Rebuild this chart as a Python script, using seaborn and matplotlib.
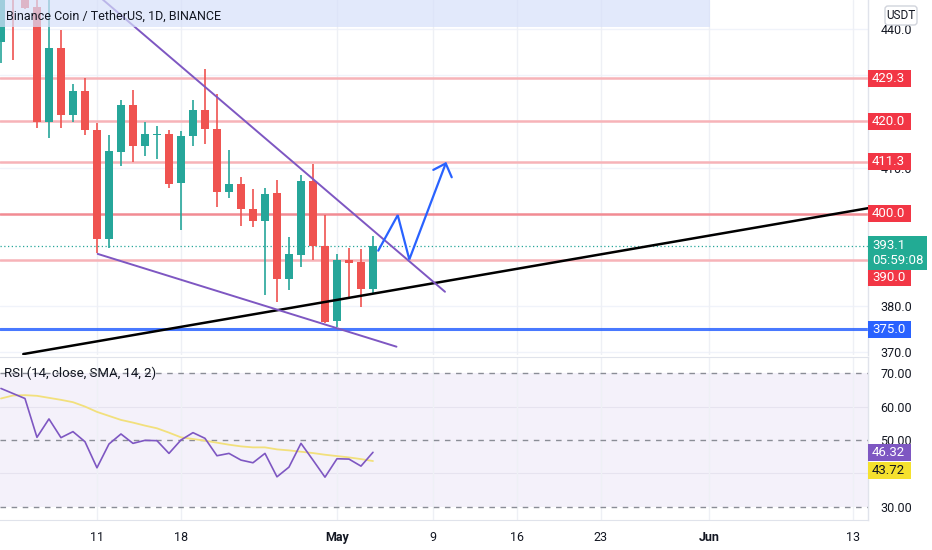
import numpy as np
import pandas as pd
import matplotlib
matplotlib.use("Agg")
import matplotlib.pyplot as plt
import matplotlib.dates as mdates
import matplotlib.transforms as mtrans
from matplotlib.patches import Rectangle, FancyBboxPatch
import seaborn as sns

# ---------------- data ----------------
dates = pd.date_range("2022-04-03", "2022-05-04", freq="D")
open_ = [437.3, 455.0, 452.0, 444.8, 419.9, 436.0, 421.4, 426.6, 418.1, 394.5, 413.4, 423.5,
         414.7, 417.0, 417.2, 406.6, 416.9, 422.5, 418.3, 404.8, 406.4, 401.0, 398.5, 404.5,
         385.8, 391.1, 407.1, 393.0, 376.8, 390.0, 389.5, 383.7]
high = [449.0, 458.0, 454.0, 447.5, 447.0, 439.8, 428.1, 429.5, 419.7, 417.0, 424.6, 426.9,
        419.9, 419.0, 418.1, 417.9, 424.6, 431.3, 425.9, 413.8, 408.0, 405.3, 405.5, 407.3,
        394.9, 408.4, 410.8, 399.7, 391.3, 392.5, 392.3, 395.2]
low = [432.6, 433.3, 444.3, 418.5, 416.3, 418.5, 419.8, 417.0, 391.4, 392.5, 410.4, 411.3,
       412.6, 411.8, 405.5, 396.5, 414.7, 415.1, 401.4, 403.5, 397.4, 397.2, 382.4, 380.9,
       383.5, 388.5, 390.0, 376.4, 375.5, 382.0, 379.9, 382.7]
close = [447.5, 448.5, 444.5, 419.9, 436.0, 421.4, 426.6, 418.1, 394.5, 413.6, 423.5, 414.7,
         417.2, 417.3, 406.4, 416.8, 422.5, 418.3, 404.8, 406.4, 401.0, 398.5, 404.3, 385.8,
         391.3, 407.1, 393.0, 376.6, 390.0, 389.3, 383.7, 393.1]
rsi = [65.4, 63.9, 62.4, 50.8, 56.3, 50.7, 52.5, 49.5, 41.7, 48.8, 51.8, 49.0, 49.9, 49.8,
       46.0, 50.0, 52.2, 50.5, 45.3, 46.0, 44.0, 43.2, 46.0, 39.0, 41.9, 49.0, 44.0, 38.9,
       44.4, 44.3, 42.2, 46.32]
rsi_sma = [62.4, 63.3, 63.4, 63.2, 62.6, 62.0, 61.3, 60.0, 58.4, 57.2, 56.0, 55.2, 54.3, 53.5,
           52.2, 50.8, 50.3, 49.8, 49.2, 48.6, 48.1, 47.8, 47.8, 47.2, 46.9, 46.5, 46.1, 45.6,
           45.2, 44.8, 44.3, 43.72]
red_levels = [429.3, 420.0, 411.3, 400.0, 390.0]
blue_level = 375.0
last_price = 393.1
countdown = "05:59:08"
tick_dates = ["2022-04-11", "2022-04-18", "2022-05-01", "2022-05-09",
              "2022-05-16", "2022-05-23", "2022-06-01", "2022-06-13"]
tick_labels = ["11", "18", "May", "9", "16", "23", "Jun", "13"]
price_ticks = [370, 380, 410, 440]          # others sit under the level tags
price_grid = [370, 380, 390, 400, 410, 420, 430, 440]
rsi_ticks = [30, 50, 60, 70]
rsi_grid = [40, 60]
title = "Binance Coin / TetherUS, 1D, BINANCE"
rsi_title = "RSI (14, close, SMA, 14, 2)"

# drawings (date, price) anchors
black_line = [("2022-04-04 20:38", 369.6), ("2022-06-14 06:00", 401.2)]
upper_wedge = [("2022-04-09", 451.9), ("2022-05-10", 383.1)]
lower_wedge = [("2022-04-11 01:30", 391.3), ("2022-05-05 23:00", 371.2)]
arrow_path = [("2022-05-04 10:30", 392.0), ("2022-05-06 01:30", 399.7),
              ("2022-05-07 00:40", 390.1), ("2022-05-10 01:30", 410.9)]
arrow_wings = [("2022-05-09 00:40", 409.5), ("2022-05-10 13:30", 407.9)]

# ---------------- style ----------------
sns.set_style("white")
plt.rcParams["font.family"] = ["Roboto", "DejaVu Sans"]
TXT = "#131722"
GREEN = "#26a69a"
RED = "#ef5350"

fig = plt.figure(figsize=(9.32, 5.5), dpi=100)
W, H = 932, 550
ax = fig.add_axes([0, 1 - 355 / H, 868 / W, 355 / H])
ax2 = fig.add_axes([0, 1 - 520 / H, 868 / W, (520 - 357) / H])

x = mdates.date2num(dates)
x_ref = mdates.date2num(pd.Timestamp("2022-04-11"))
xlim = (x_ref - 8.08, x_ref + 64.25)

def tonum(pairs):
    return [mdates.date2num(pd.Timestamp(d)) for d, _ in pairs], [p for _, p in pairs]

for a in (ax, ax2):
    a.set_xlim(*xlim)
    a.set_facecolor("white")
    for s in ("left", "top", "bottom"):
        a.spines[s].set_visible(False)
    a.spines["right"].set_color("#e0e3eb")
    a.spines["right"].set_linewidth(1)
    a.set_xticks([mdates.date2num(pd.Timestamp(d)) for d in tick_dates])
    a.grid(True, axis="x", color="#eef0f5", lw=1)
    a.yaxis.tick_right()
    a.tick_params(axis="y", length=0, pad=9, labelsize=9, labelcolor=TXT)
    a.tick_params(axis="x", length=0)

# ---------------- main pane ----------------
ax.set_ylim(369.4, 446.3)
ax.set_yticks(price_ticks)
ax.set_yticklabels([f"{v:.1f}" for v in price_ticks])
for g in price_grid:
    ax.axhline(g, color="#f0f3fa", lw=1, zorder=0)
ax.set_xticklabels([])

for lv in red_levels:
    ax.axhline(lv, color="#f28b93" if lv == 400.0 else "#f7b3b8", lw=1.8, zorder=1)
ax.axhline(blue_level, color="#2962ff", lw=2.2, zorder=1, alpha=0.85)
ax.axhline(last_price, color=GREEN, lw=0.9, ls=(0, (1, 2)), zorder=1)

colors = [GREEN if c >= o else RED for o, c in zip(open_, close)]
body_lo = np.minimum(open_, close)
body_h = np.maximum(np.abs(np.array(close) - np.array(open_)), 0.25)
ax.vlines(x, low, high, colors=colors, lw=1.2, zorder=3)
ax.bar(x, body_h, bottom=body_lo, width=0.68, color=colors, lw=0, zorder=4)

bx, by = tonum(black_line)
ax.plot(bx, by, color="black", lw=1.8, zorder=5, solid_capstyle="round")
ux, uy = tonum(upper_wedge)
ax.plot(ux, uy, color="#7e57c2", lw=1.4, zorder=5)
lx, ly = tonum(lower_wedge)
ax.plot(lx, ly, color="#7e57c2", lw=1.4, zorder=5)
px, py = tonum(arrow_path)
ax.plot(px, py, color="#2962ff", lw=1.6, zorder=6, solid_joinstyle="miter")
wx, wy = tonum(arrow_wings)
ax.plot([wx[0], px[-1], wx[1]], [wy[0], py[-1], wy[1]], color="#2962ff", lw=1.6, zorder=6)

# ---------------- RSI pane ----------------
ax2.set_ylim(26.1, 74.8)
ax2.set_yticks(rsi_ticks)
ax2.set_yticklabels([f"{v:.2f}" for v in rsi_ticks])
for g in rsi_grid:
    ax2.axhline(g, color="#e6e3ef", lw=0.8, zorder=0.5)
ax2.axhspan(30, 70, color="#7e57c2", alpha=0.08, lw=0, zorder=0)
for lv in (70, 50, 30):
    ax2.axhline(lv, color="#8a8d96", lw=1, ls=(0, (4, 4)), zorder=1)
sns.lineplot(x=x, y=rsi_sma, ax=ax2, color="#f2e07c", lw=1.3, zorder=3)
sns.lineplot(x=x, y=rsi, ax=ax2, color="#7e57c2", lw=1.2, zorder=4)
ax2.set_xlabel("")
ax2.set_ylabel("")
ax2.set_xticklabels(tick_labels)
ax2.tick_params(axis="x", pad=8, labelsize=9, labelcolor=TXT)
for lab in ax2.get_xticklabels():
    if lab.get_text() in ("May", "Jun"):
        lab.set_fontweight("bold")
ax2.spines["bottom"].set_visible(True)
ax2.spines["bottom"].set_color("#e0e3eb")
ax2.spines["top"].set_visible(True)
ax2.spines["top"].set_color("#e0e3eb")

# ---------------- overlays in pixel space ----------------
fig.canvas.draw()
ident = mtrans.IdentityTransform()

def ydisp(a, v):
    return a.transData.transform((xlim[0], v))[1]

def tag(a, v, text, fc, tc, w=43, h=17, shift=0.0):
    yc = ydisp(a, v) - shift
    fig.patches.append(Rectangle((868, yc - h / 2), w, h, transform=ident, fc=fc, ec="none",
                                 zorder=10, figure=fig))
    fig.text((868 + 4) / W, yc / H, text, transform=fig.transFigure, ha="left", va="center",
             color=tc, fontsize=9.5, zorder=11, linespacing=1.2)

for lv in red_levels:
    tag(ax, lv, f"{lv:.1f}", "#f23645", "white", shift=18 if lv == 390.0 else 0)
tag(ax, blue_level, f"{blue_level:.1f}", "#2962ff", "white")
tag(ax, last_price, f"{last_price:.1f}\n{countdown}", "#22ab94", "white", w=59, h=34, shift=7.5)
tag(ax2, rsi[-1], f"{rsi[-1]:.2f}", "#7e57c2", "white")
tag(ax2, rsi_sma[-1], f"{rsi_sma[-1]:.2f}", "#f5e12e", TXT, shift=9)

fig.patches.append(FancyBboxPatch((885, H - 25), 32, 19, boxstyle="round,pad=0,rounding_size=3",
                                  transform=ident, fc="white", ec="#d1d4dc", lw=1, zorder=10,
                                  figure=fig))
fig.text(901 / W, (H - 15.5) / H, "USDT", ha="center", va="center", fontsize=8.5, color=TXT, zorder=11)

fig.patches.append(Rectangle((0, H - 27), 710, 27, transform=ident, fc="#d6e0fa", alpha=0.7,
                             ec="none", zorder=9, figure=fig))
fig.text(6 / W, (H - 16) / H, title, ha="left", va="center", fontsize=9, color=TXT, zorder=11)
fig.text(4 / W, (H - 373) / H, rsi_title, ha="left", va="center", fontsize=9.5, color=TXT, zorder=11)

fig.savefig("out.png", dpi=100)
